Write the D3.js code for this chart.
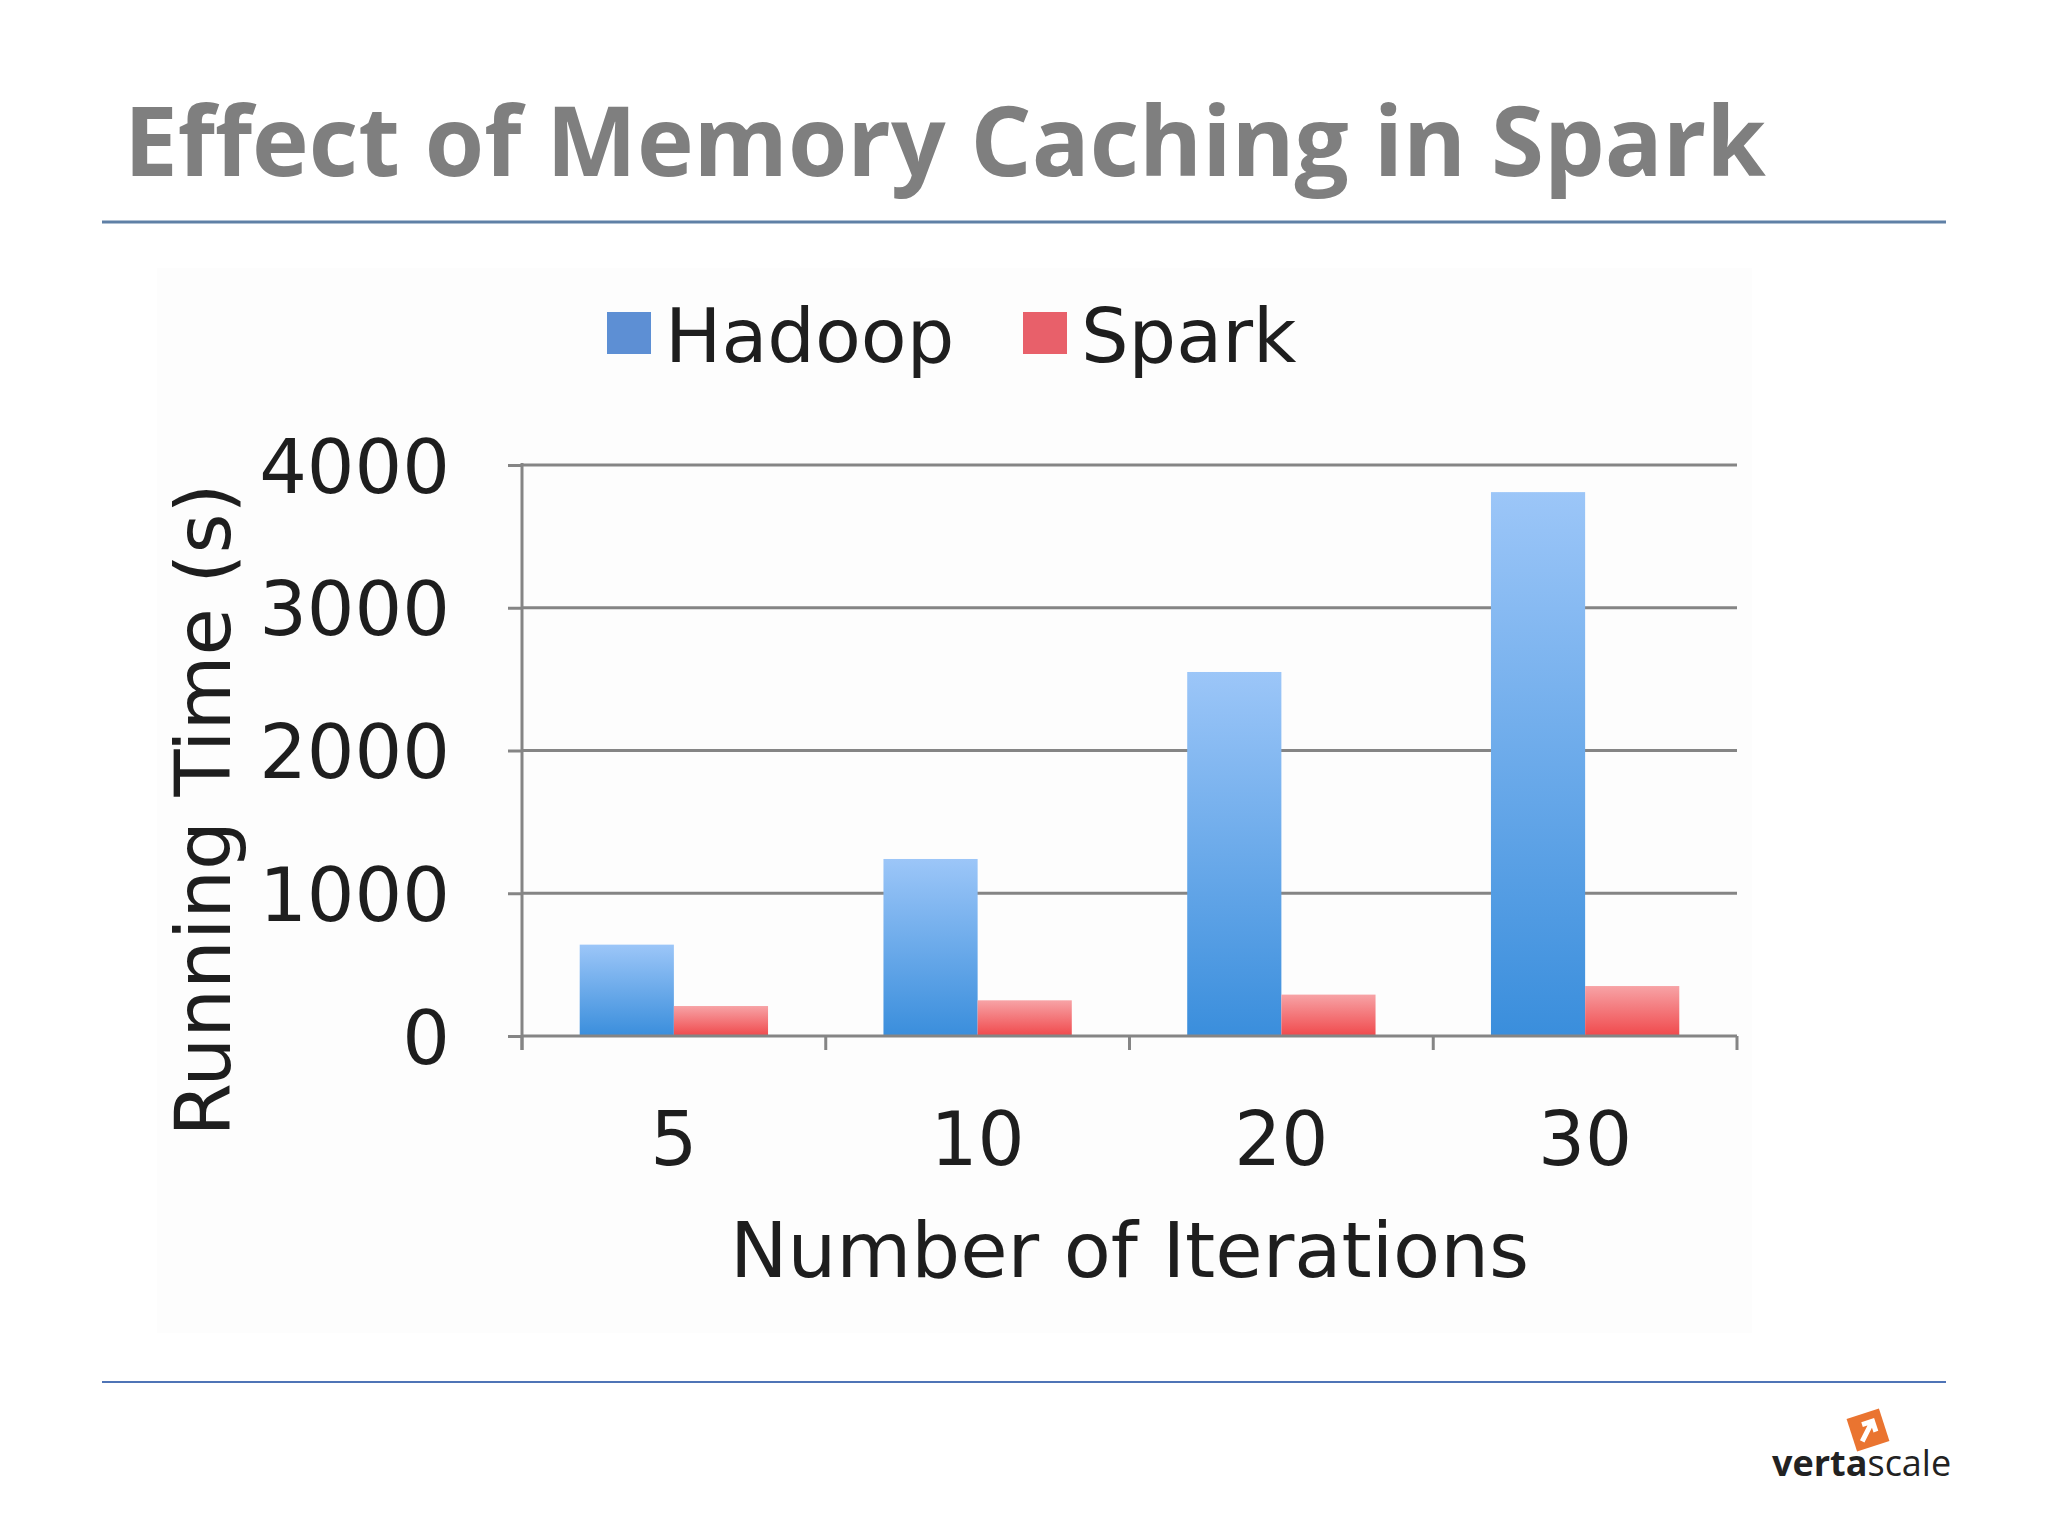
<!DOCTYPE html>
<html>
<head>
<meta charset="utf-8">
<script src="https://cdn.jsdelivr.net/npm/d3@7"></script>
<style>
  html, body { margin: 0; padding: 0; background: #ffffff; }
  svg { display: block; }
</style>
</head>
<body>
<script>
// ---- data ----
const categories = ["5", "10", "20", "30"];
const seriesNames = ["Hadoop", "Spark"];
const hadoopValues = [640, 1240, 2550, 3810];
const sparkValues = [210, 250, 290, 350];
const yTicks = [0, 1000, 2000, 3000, 4000];
const titleText = "Effect of Memory Caching in Spark";
const xTitle = "Number of Iterations";
const yTitle = "Running Time (s)";

(function () {
const W = 2048, H = 1536;
const svg = d3.select("body").append("svg").attr("width", W).attr("height", H);

const defs = svg.append("defs");
const gH = defs.append("linearGradient").attr("id", "gH").attr("x1", 0).attr("y1", 0).attr("x2", 0).attr("y2", 1);
gH.append("stop").attr("offset", "0%").attr("stop-color", "#9cc6f8");
gH.append("stop").attr("offset", "100%").attr("stop-color", "#3a8edc");
const gS = defs.append("linearGradient").attr("id", "gS").attr("x1", 0).attr("y1", 0).attr("x2", 0).attr("y2", 1);
gS.append("stop").attr("offset", "0%").attr("stop-color", "#f7a3a6");
gS.append("stop").attr("offset", "100%").attr("stop-color", "#f0494c");
const fills = ["url(#gH)", "url(#gS)"];
const legendFills = ["#5d8fd4", "#e8606a"];

// ---- title ----
const title = svg.append("text")
  .attr("x", 124).attr("y", 176)
  .attr("font-family", "'Open Sans', sans-serif")
  .attr("font-weight", "bold")
  .attr("font-size", 89)
  .attr("fill", "#7f7f7f")
  .text(titleText);
const tw = title.node().getComputedTextLength();
title.attr("font-size", 89 * 1642 / tw);

// rules
svg.append("line").attr("x1", 102).attr("x2", 1946).attr("y1", 222).attr("y2", 222)
  .attr("stroke", "#5f80a6").attr("stroke-width", 3);
svg.append("line").attr("x1", 102).attr("x2", 1946).attr("y1", 1382).attr("y2", 1382)
  .attr("stroke", "#4f74b6").attr("stroke-width", 2);

// faint chart backdrop
svg.append("rect").attr("x", 157).attr("y", 268).attr("width", 1595).attr("height", 1065)
  .attr("fill", "#fdfdfd");

// ---- scales ----
const pLeft = 522, pRight = 1737, pTop = 465, pBottom = 1036;
const x0 = d3.scaleBand().domain(categories).range([pLeft, pRight]).padding(0);
const gap = x0.bandwidth() * 0.19;
const x1 = d3.scaleBand().domain(seriesNames).range([gap, x0.bandwidth() - gap]).padding(0);
const y = d3.scaleLinear().domain([0, 4000]).range([pBottom, pTop]);

const font = "'DejaVu Sans', Verdana, sans-serif";
const gridColor = "#858585";

// gridlines
svg.append("g").selectAll("line").data(yTicks.filter(d => d > 0)).join("line")
  .attr("x1", pLeft).attr("x2", pRight)
  .attr("y1", d => y(d)).attr("y2", d => y(d))
  .attr("stroke", gridColor).attr("stroke-width", 3);

// bars
const rows = categories.map((c, i) => ({ cat: c, vals: [hadoopValues[i], sparkValues[i]] }));
const gBars = svg.append("g");
rows.forEach(r => {
  r.vals.forEach((v, j) => {
    gBars.append("rect")
      .attr("x", x0(r.cat) + x1(seriesNames[j]))
      .attr("y", y(v))
      .attr("width", x1.bandwidth())
      .attr("height", y(0) - y(v))
      .attr("fill", fills[j]);
  });
});

// y axis
const yAxis = d3.axisLeft(y).tickValues(yTicks).tickSize(14).tickPadding(58).tickFormat(d3.format("d"));
const gy = svg.append("g").attr("transform", `translate(${pLeft},0)`).call(yAxis);
gy.select(".domain").remove();
gy.selectAll(".tick line").attr("stroke", gridColor).attr("stroke-width", 3);
gy.selectAll(".tick text").attr("font-family", font).attr("font-size", 75).attr("fill", "#1e1e1e")
  .attr("dy", "0.36em");
svg.append("line").attr("x1", pLeft).attr("x2", pLeft).attr("y1", pTop - 2).attr("y2", pBottom + 14)
  .attr("stroke", gridColor).attr("stroke-width", 3);

// x axis
svg.append("line").attr("x1", pLeft).attr("x2", pRight).attr("y1", pBottom).attr("y2", pBottom)
  .attr("stroke", gridColor).attr("stroke-width", 3);
const bounds = categories.map(c => x0(c)).concat([pRight]);
svg.append("g").selectAll("line").data(bounds).join("line")
  .attr("x1", d => d).attr("x2", d => d).attr("y1", pBottom).attr("y2", pBottom + 14)
  .attr("stroke", gridColor).attr("stroke-width", 3);
svg.append("g").selectAll("text").data(categories).join("text")
  .attr("x", d => x0(d) + x0.bandwidth() / 2)
  .attr("y", 1165)
  .attr("text-anchor", "middle")
  .attr("font-family", font).attr("font-size", 74).attr("fill", "#1e1e1e")
  .text(d => d);

// axis titles
svg.append("text")
  .attr("x", (pLeft + pRight) / 2).attr("y", 1277)
  .attr("text-anchor", "middle")
  .attr("font-family", font).attr("font-size", 77).attr("fill", "#1e1e1e")
  .text(xTitle);
svg.append("text")
  .attr("transform", "translate(230,810) rotate(-90)")
  .attr("text-anchor", "middle")
  .attr("font-family", font).attr("font-size", 77).attr("fill", "#1e1e1e")
  .text(yTitle);

// legend
const legendX = [607, 1023];
const leg = svg.append("g");
seriesNames.forEach((s, i) => {
  leg.append("rect").attr("x", legendX[i]).attr("y", 312).attr("width", 44).attr("height", 42)
    .attr("fill", legendFills[i]);
  leg.append("text").attr("x", legendX[i] + 58).attr("y", 362)
    .attr("font-family", font).attr("font-size", 75).attr("fill", "#1e1e1e")
    .text(s);
});

// logo
const logo = svg.append("g");
logo.append("g").attr("transform", "translate(1868,1430) rotate(-18)")
  .call(g => {
    g.append("rect").attr("x", -17).attr("y", -17).attr("width", 34).attr("height", 34).attr("fill", "#ea7430");
    g.append("path").attr("d", "M-9,9 L6,-6 M-4,-7 L7,-7 L7,4").attr("stroke", "#fff").attr("stroke-width", 5).attr("fill", "none");
  });
const lt = logo.append("text").attr("x", 1772).attr("y", 1476)
  .attr("font-family", "'Open Sans', sans-serif").attr("font-size", 36).attr("fill", "#222");
lt.append("tspan").attr("font-weight", "bold").text("verta");
lt.append("tspan").text("scale");
})();
</script>
</body>
</html>
